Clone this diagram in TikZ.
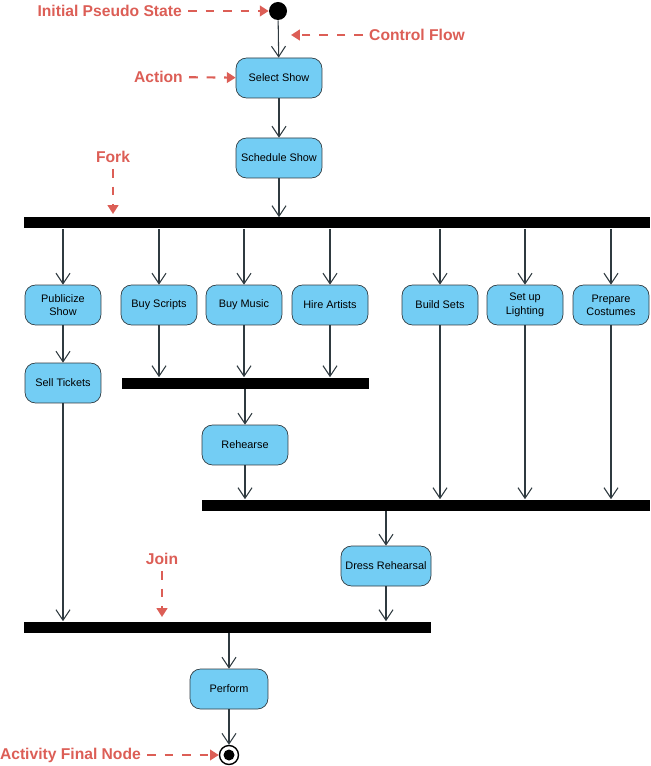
\documentclass[tikz,border=0pt]{standalone}
\usepackage{fontspec}
\setmainfont{Liberation Sans}
\usepackage{tikz}
\usetikzlibrary{positioning}
\usetikzlibrary{arrows.meta,shapes,calc}

\definecolor{actfill}{HTML}{73CDF4}
\definecolor{actline}{HTML}{2F3A40}
\definecolor{notered}{HTML}{DC5E56}

\tikzset{
  action/.style={draw=actline,fill=actfill,rounded corners=6pt,minimum width=1.52cm,minimum height=0.8cm,
    align=center,font=\fontsize{6.2}{7.6}\selectfont,inner sep=1pt},
  bar/.style={fill=black,minimum height=0.22cm,inner sep=0pt},
  flow/.style={-{Straight Barb[length=6pt,width=8pt]},actline,semithick},
  note/.style={text=notered,font=\bfseries\fontsize{8.9}{10}\selectfont},
  pointer/.style={notered,very thick,dash pattern=on 5pt off 5pt,-{Triangle[length=5pt,width=6pt]}}
}

\begin{document}
\begin{tikzpicture}[x=0.02cm,y=-0.02cm]
  \useasboundingbox (0,0) rectangle (650,766);
  % initial and final states
  \node[circle,fill=black,minimum size=0.36cm,inner sep=0pt] (Start) at (278,11) {};
  \node[circle,draw=black,thick,minimum size=0.38cm,inner sep=0pt] (End) at (229,755) {};
  \fill (End) circle (0.11cm);
  % actions
  \node[action,minimum width=1.72cm] (SelectShow) at (279,78) {Select Show};
  \node[action,minimum width=1.72cm] (ScheduleShow) at (279,158) {Schedule Show};
  \node[action] (Publicize) at (63,305) {Publicize\\Show};
  \node[action] (Scripts) at (159,305) {Buy Scripts};
  \node[action] (Music) at (244,305) {Buy Music};
  \node[action] (Artists) at (330,305) {Hire Artists};
  \node[action] (Sets) at (440,305) {Build Sets};
  \node[action] (Lighting) at (525,305) {Set up\\Lighting};
  \node[action] (Costumes) at (611,305) {Prepare\\Costumes};
  \node[action] (Tickets) at (63,383) {Sell Tickets};
  \node[action,minimum width=1.72cm] (Rehearse) at (245,445) {Rehearse};
  \node[action,minimum width=1.8cm] (Dress) at (386,566) {Dress Rehearsal};
  \node[action,minimum width=1.56cm] (Perform) at (229,689) {Perform};
  % fork and joins
  \node[bar,minimum width=12.52cm] (Fork) at (337,223) {};
  \node[bar,minimum width=4.94cm] (JoinA) at (245.5,383) {};
  \node[bar,minimum width=8.96cm] (JoinB) at (426,505) {};
  \node[bar,minimum width=8.14cm] (JoinC) at (227.5,627) {};
  % control flows
  \draw[flow] (Start) -- (SelectShow);
  \draw[flow] (SelectShow) -- (ScheduleShow);
  \draw[flow] (ScheduleShow) -- (ScheduleShow|-Fork.north);
  \foreach \a in {Publicize,Scripts,Music,Artists,Sets,Lighting,Costumes}
    \draw[flow] (\a|-Fork.south) -- (\a);
  \draw[flow] (Publicize) -- (Tickets);
  \foreach \a in {Scripts,Music,Artists}
    \draw[flow] (\a) -- (\a|-JoinA.north);
  \draw[flow] (Rehearse|-JoinA.south) -- (Rehearse);
  \foreach \a in {Rehearse,Sets,Lighting,Costumes}
    \draw[flow] (\a) -- (\a|-JoinB.north);
  \draw[flow] (Dress|-JoinB.south) -- (Dress);
  \foreach \a in {Tickets,Dress}
    \draw[flow] (\a) -- (\a|-JoinC.north);
  \draw[flow] (Perform|-JoinC.south) -- (Perform);
  \draw[flow] (Perform) -- (End);
  % notes
  \node[note,anchor=east] (InitNote) at (188,11) {Initial Pseudo State};
  \draw[pointer] (InitNote) -- (Start);
  \node[note,anchor=west] (FlowNote) at (363,35) {Control Flow};
  \coordinate (FlowEnd) at (291,35);
  \draw[pointer] (FlowNote) -- (FlowEnd);
  \node[note,anchor=east] (ActionNote) at (189,77) {Action};
  \draw[pointer] (ActionNote) -- (SelectShow);
  \node[note] (ForkNote) at (113,157) {Fork};
  \coordinate (ForkEnd) at (113,214);
  \draw[pointer] (ForkNote) -- (ForkEnd);
  \node[note] (JoinNote) at (162,559) {Join};
  \coordinate (JoinEnd) at (162,617);
  \draw[pointer] (JoinNote) -- (JoinEnd);
  \node[note,anchor=east] (FinalNote) at (147,755) {Activity Final Node};
  \draw[pointer] (FinalNote) -- (End);
\end{tikzpicture}
\end{document}
